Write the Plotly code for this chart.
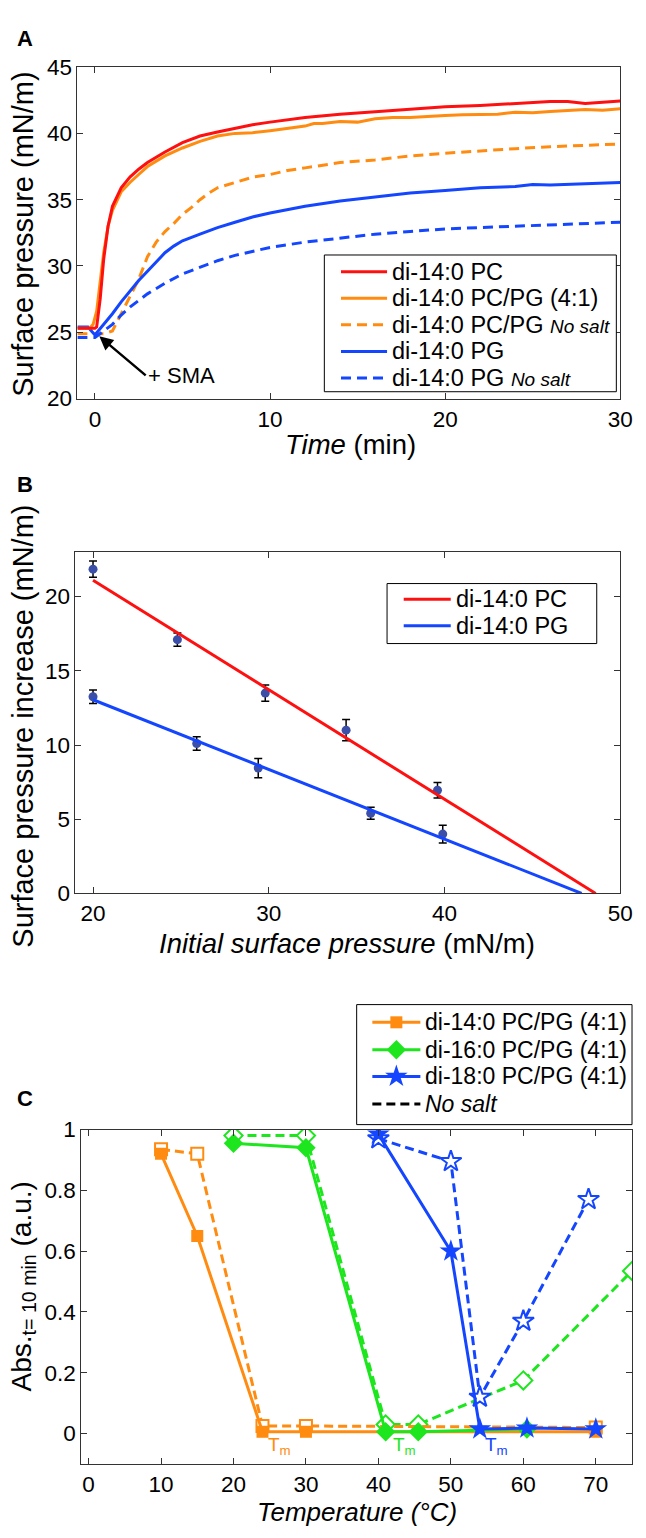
import plotly.graph_objects as go

W, H = 646, 1538

# ---- panel A: surface pressure vs time ----
t_pc = [-1, -0.5, 0, 0.1, 0.3, 0.5, 0.75, 1, 1.5, 2, 2.5, 3, 4, 5, 6, 7, 8, 9, 10, 12, 14, 16, 18, 20, 22, 24, 26, 27, 28, 29, 30]
p_pc = [25.3, 25.3, 25.3, 25.4, 27.5, 30.5, 33.0, 34.5, 35.9, 36.7, 37.3, 37.8, 38.6, 39.3, 39.8, 40.1, 40.4, 40.65, 40.85, 41.2, 41.45, 41.65, 41.8, 42.0, 42.1, 42.25, 42.4, 42.4, 42.25, 42.35, 42.45]

t_pcpg = [-1, -0.3, -0.1, 0.1, 0.3, 0.5, 0.75, 1, 1.5, 2, 2.5, 3, 4, 5, 6, 7, 8, 9, 10, 11, 12, 12.5, 13, 14, 15, 16, 17, 18, 19, 20, 21, 22, 23, 24, 25, 26, 27, 28, 29, 30]
p_pcpg = [25.3, 25.3, 25.6, 26.6, 28.8, 31.0, 33.0, 34.2, 35.6, 36.3, 36.9, 37.5, 38.3, 38.9, 39.4, 39.8, 40.0, 40.05, 40.2, 40.35, 40.55, 40.75, 40.75, 40.9, 40.85, 41.1, 41.2, 41.2, 41.3, 41.35, 41.4, 41.45, 41.45, 41.6, 41.55, 41.65, 41.7, 41.8, 41.75, 41.85]

t_pcpg_ns = [-1, -0.5, 0, 0.5, 1, 1.5, 2, 2.5, 3, 3.5, 4, 4.5, 5, 5.5, 6, 6.5, 7, 8, 9, 10, 11, 12, 13, 14, 16, 18, 20, 22, 24, 26, 28, 30]
p_pcpg_ns = [24.9, 24.9, 24.95, 24.9, 25.1, 26.4, 27.6, 29.0, 30.7, 31.8, 32.6, 33.2, 33.9, 34.4, 35.0, 35.5, 35.9, 36.3, 36.7, 36.9, 37.2, 37.4, 37.6, 37.8, 38.0, 38.3, 38.5, 38.7, 38.85, 39.0, 39.1, 39.2]

t_pg = [-1, -0.4, 0, 0.5, 1, 1.5, 2, 2.5, 3, 3.5, 4, 4.5, 5, 6, 7, 8, 9, 10, 12, 14, 16, 18, 20, 22, 24, 25, 26, 28, 30]
p_pg = [25.4, 25.4, 24.8, 25.6, 26.4, 27.3, 28.1, 28.9, 29.6, 30.3, 31.0, 31.5, 31.9, 32.4, 32.9, 33.3, 33.7, 34.0, 34.5, 34.9, 35.2, 35.5, 35.7, 35.9, 36.0, 36.15, 36.1, 36.2, 36.3]

t_pg_ns = [-1, -0.5, 0, 0.5, 1, 1.5, 2, 3, 4, 5, 6, 7, 8, 9, 10, 12, 14, 16, 18, 20, 22, 24, 26, 28, 30]
p_pg_ns = [24.6, 24.6, 24.6, 25.1, 25.6, 26.3, 26.9, 27.9, 28.7, 29.4, 29.9, 30.4, 30.8, 31.1, 31.4, 31.8, 32.1, 32.4, 32.6, 32.8, 32.9, 33.0, 33.1, 33.2, 33.3]

# ---- panel B: pressure increase vs initial pressure ----
pc_init = [20.0, 24.8, 29.8, 34.4, 39.6]
pc_incr = [21.85, 17.1, 13.5, 11.0, 6.95]
pc_err = [0.55, 0.45, 0.55, 0.72, 0.52]
pg_init = [20.0, 25.9, 29.4, 35.8, 39.9]
pg_incr = [13.25, 10.1, 8.45, 5.4, 4.0]
pg_err = [0.45, 0.45, 0.65, 0.4, 0.6]
pc_fit_x = [20.0, 48.6]
pc_fit_y = [21.1, 0.0]
pg_fit_x = [20.0, 47.8]
pg_fit_y = [13.05, 0.0]

# ---- panel C: absorbance vs temperature ----
c14_T = [10, 15, 24, 30, 70]
c14_abs = [0.92, 0.65, 0.006, 0.006, 0.006]
c14_T_ns = [10, 15, 24, 30, 70]
c14_abs_ns = [0.935, 0.92, 0.025, 0.025, 0.02]
c16_T = [20, 30, 41, 45.5, 60.5]
c16_abs = [0.955, 0.94, 0.006, 0.006, 0.015]
c16_T_ns = [20, 30, 41, 45.5, 60, 75]
c16_abs_ns = [0.98, 0.98, 0.03, 0.03, 0.175, 0.535]
c18_T = [40, 50, 54, 60.5, 70]
c18_abs = [0.985, 0.6, 0.015, 0.018, 0.015]
c18_T_ns = [40, 50, 54, 60, 69]
c18_abs_ns = [0.97, 0.895, 0.12, 0.37, 0.77]

RED = "#FF1010"
ORANGE = "#FF8C10"
BLUE = "#1446FF"
GREEN = "#1EE61E"
FONT = "Liberation Sans"
AX = "#333"


# layout positions are given in page pixels
def px_x(x):
    return x / W


def px_y(y):
    return 1 - y / H


fig = go.Figure()

# panel A traces
dash = "10px,6px"
for xs, ys, col, dsh in [(t_pcpg_ns, p_pcpg_ns, ORANGE, dash), (t_pg_ns, p_pg_ns, BLUE, dash),
                         (t_pg, p_pg, BLUE, "solid"), (t_pcpg, p_pcpg, ORANGE, "solid"),
                         (t_pc, p_pc, RED, "solid")]:
    fig.add_trace(go.Scatter(x=xs, y=ys, mode="lines", showlegend=False,
                             line=dict(color=col, width=3, dash=dsh), xaxis="x", yaxis="y"))

# panel B traces
err_style = dict(type="data", thickness=1.5, width=4, color="black")
for xs, ys, es in [(pc_init, pc_incr, pc_err), (pg_init, pg_incr, pg_err)]:
    fig.add_trace(go.Scatter(x=xs, y=ys, mode="markers", showlegend=False,
                             marker=dict(color="#3C4FA8", size=9),
                             error_y=dict(array=es, **err_style), xaxis="x2", yaxis="y2"))
for xs, ys, col in [(pc_fit_x, pc_fit_y, RED), (pg_fit_x, pg_fit_y, BLUE)]:
    fig.add_trace(go.Scatter(x=xs, y=ys, mode="lines", showlegend=False,
                             line=dict(color=col, width=3), xaxis="x2", yaxis="y2"))

# panel C traces: dashed (no salt) first, solid on top
cdash = "9px,5px"
for xs, ys, col, sym, sz in [(c16_T_ns, c16_abs_ns, GREEN, "diamond", 14),
                             (c18_T_ns, c18_abs_ns, BLUE, "star", 16),
                             (c14_T_ns, c14_abs_ns, ORANGE, "square", 12)]:
    fig.add_trace(go.Scatter(x=xs, y=ys, mode="lines+markers", showlegend=False,
                             line=dict(color=col, width=3, dash=cdash),
                             marker=dict(symbol=sym, size=sz, color="white", line=dict(width=2, color=col)),
                             xaxis="x3", yaxis="y3"))
for xs, ys, col, sym, sz in [(c14_T, c14_abs, ORANGE, "square", 12),
                             (c16_T, c16_abs, GREEN, "diamond", 15),
                             (c18_T, c18_abs, BLUE, "star", 17)]:
    fig.add_trace(go.Scatter(x=xs, y=ys, mode="lines+markers", showlegend=False,
                             line=dict(color=col, width=3),
                             marker=dict(symbol=sym, size=sz, color=col),
                             xaxis="x3", yaxis="y3"))

# ---- legends, drawn in page pixel space on an overlay axis ----
ann = []


def legend_box(x0, y0, x1, y1):
    fig.add_trace(go.Scatter(x=[x0, x1, x1, x0, x0], y=[y0, y0, y1, y1, y0], mode="lines",
                             fill="toself", fillcolor="white", line=dict(color="black", width=1),
                             showlegend=False, hoverinfo="skip", xaxis="x4", yaxis="y4"))


def legend_item(x0, x1, y, col, label, dsh="solid", sym=None, sz=12, size=23.5):
    fig.add_trace(go.Scatter(x=[x0, x1], y=[y, y], mode="lines", line=dict(color=col, width=3, dash=dsh),
                             showlegend=False, hoverinfo="skip", xaxis="x4", yaxis="y4"))
    if sym:
        fig.add_trace(go.Scatter(x=[(x0 + x1) / 2], y=[y], mode="markers",
                                 marker=dict(symbol=sym, size=sz, color=col),
                                 showlegend=False, hoverinfo="skip", xaxis="x4", yaxis="y4"))
    ann.append(dict(text=label, x=px_x(x1 + 3), y=px_y(y), xref="paper", yref="paper",
                    xanchor="left", yanchor="middle", showarrow=False,
                    font=dict(family=FONT, size=size, color="black")))


ns = " <span style='font-size:19px'><i>No salt</i></span>"
legend_box(331, 247, 629, 386)
legend_item(348, 395, 264, RED, "di-14:0 PC")
legend_item(348, 395, 291, ORANGE, "di-14:0 PC/PG (4:1)")
legend_item(348, 395, 318, ORANGE, "di-14:0 PC/PG" + ns, dsh=dash)
legend_item(348, 395, 345, BLUE, "di-14:0 PG")
legend_item(348, 395, 372, BLUE, "di-14:0 PG" + ns, dsh=dash)

legend_box(395, 581, 609, 642)
legend_item(412, 460, 597, RED, "di-14:0 PC")
legend_item(412, 460, 624, BLUE, "di-14:0 PG")

legend_box(364, 1009, 645, 1131)
legend_item(380, 429, 1027, ORANGE, "di-14:0 PC/PG (4:1)", sym="square", sz=12, size=23)
legend_item(380, 429, 1055, GREEN, "di-16:0 PC/PG (4:1)", sym="diamond", sz=15, size=23)
legend_item(380, 429, 1082, BLUE, "di-18:0 PC/PG (4:1)", sym="star", sz=17, size=23)
legend_item(380, 429, 1110, "black", "<i>No salt</i>", dsh=cdash, size=23)

axis_common = dict(showline=True, linecolor=AX, linewidth=1, mirror="ticks", ticks="inside",
                   ticklen=6, tickcolor=AX, showgrid=False, zeroline=False,
                   tickfont=dict(family=FONT, size=22.5, color="black"))

fig.update_layout(
    width=W, height=H, margin=dict(l=0, r=0, t=0, b=0),
    paper_bgcolor="white", plot_bgcolor="rgba(0,0,0,0)", showlegend=False,
    xaxis=dict(domain=[px_x(79), px_x(633)], range=[-1, 30], tickvals=[0, 10, 20, 30], anchor="y", **axis_common),
    yaxis=dict(domain=[px_y(393), px_y(56)], range=[20, 45], tickvals=[20, 25, 30, 35, 40, 45], anchor="x", **axis_common),
    xaxis2=dict(domain=[px_x(77), px_x(633)], range=[19, 50], tickvals=[20, 30, 40, 50], anchor="y2", **axis_common),
    yaxis2=dict(domain=[px_y(896), px_y(549)], range=[0, 23], tickvals=[0, 5, 10, 15, 20], anchor="x2", **axis_common),
    xaxis3=dict(domain=[px_x(83), px_x(645)], range=[-1, 75], tickvals=[0, 10, 20, 30, 40, 50, 60, 70], anchor="y3", **axis_common),
    yaxis3=dict(domain=[px_y(1476), px_y(1136)], range=[-0.1, 1], tickvals=[0, 0.2, 0.4, 0.6, 0.8, 1],
                ticktext=["0", "0.2", "0.4", "0.6", "0.8", "1"], anchor="x3", **axis_common),
    xaxis4=dict(domain=[0, 1], range=[0, W], visible=False, anchor="y4", fixedrange=True),
    yaxis4=dict(domain=[0, 1], range=[H, 0], visible=False, anchor="x4", fixedrange=True),
)

centered = dict(xref="paper", yref="paper", xanchor="center", yanchor="middle", showarrow=False)
# panel letters
for lbl, yy in [("A", 27), ("B", 480), ("C", 1104)]:
    ann.append(dict(text="<b>" + lbl + "</b>", x=px_x(26), y=px_y(yy),
                    font=dict(family=FONT, size=22, color="black"), **centered))
# y titles
for txt, yy, sz in [("Surface pressure (mN/m)", 226, 29),
                    ("Surface pressure increase (mN/m)", 726, 29),
                    ("Abs.<sub>t= 10 min</sub> (a.u.)", 1296, 28)]:
    ann.append(dict(text=txt, x=px_x(24), y=px_y(yy), textangle=-90,
                    font=dict(family=FONT, size=sz, color="black"), **centered))
# x titles
for txt, xx, yy, sz in [("<i>Time</i> (min)", 358, 440, 27.5),
                        ("<i>Initial surface pressure</i> (mN/m)", 354, 947, 27.5),
                        ("<i>Temperature (°C)</i>", 364, 1525, 26)]:
    ann.append(dict(text=txt, x=px_x(xx), y=px_y(yy),
                    font=dict(family=FONT, size=sz, color="black"), **centered))
# + SMA arrow
ann.append(dict(text="+ SMA", x=0.25, y=24.7, ax=2.9, ay=21.75, xref="x", yref="y", axref="x", ayref="y",
                xanchor="left", yanchor="middle", showarrow=True, arrowhead=2, arrowsize=1.1,
                arrowwidth=2.5, arrowcolor="black", font=dict(family=FONT, size=22, color="black")))
# Tm labels
for xx, col in [(26.4, ORANGE), (43.6, GREEN), (56.3, BLUE)]:
    ann.append(dict(text="T<sub>m</sub>", x=xx, y=-0.04, xref="x3", yref="y3", showarrow=False,
                    xanchor="center", yanchor="middle", font=dict(family=FONT, size=19, color=col)))
fig.update_layout(annotations=ann)

# drop the browser's default page margin so the figure fills the window exactly
fig.write_html("out.html", config={"displayModeBar": False},
               post_script="document.body.style.margin='0';document.body.style.overflow='hidden';")
